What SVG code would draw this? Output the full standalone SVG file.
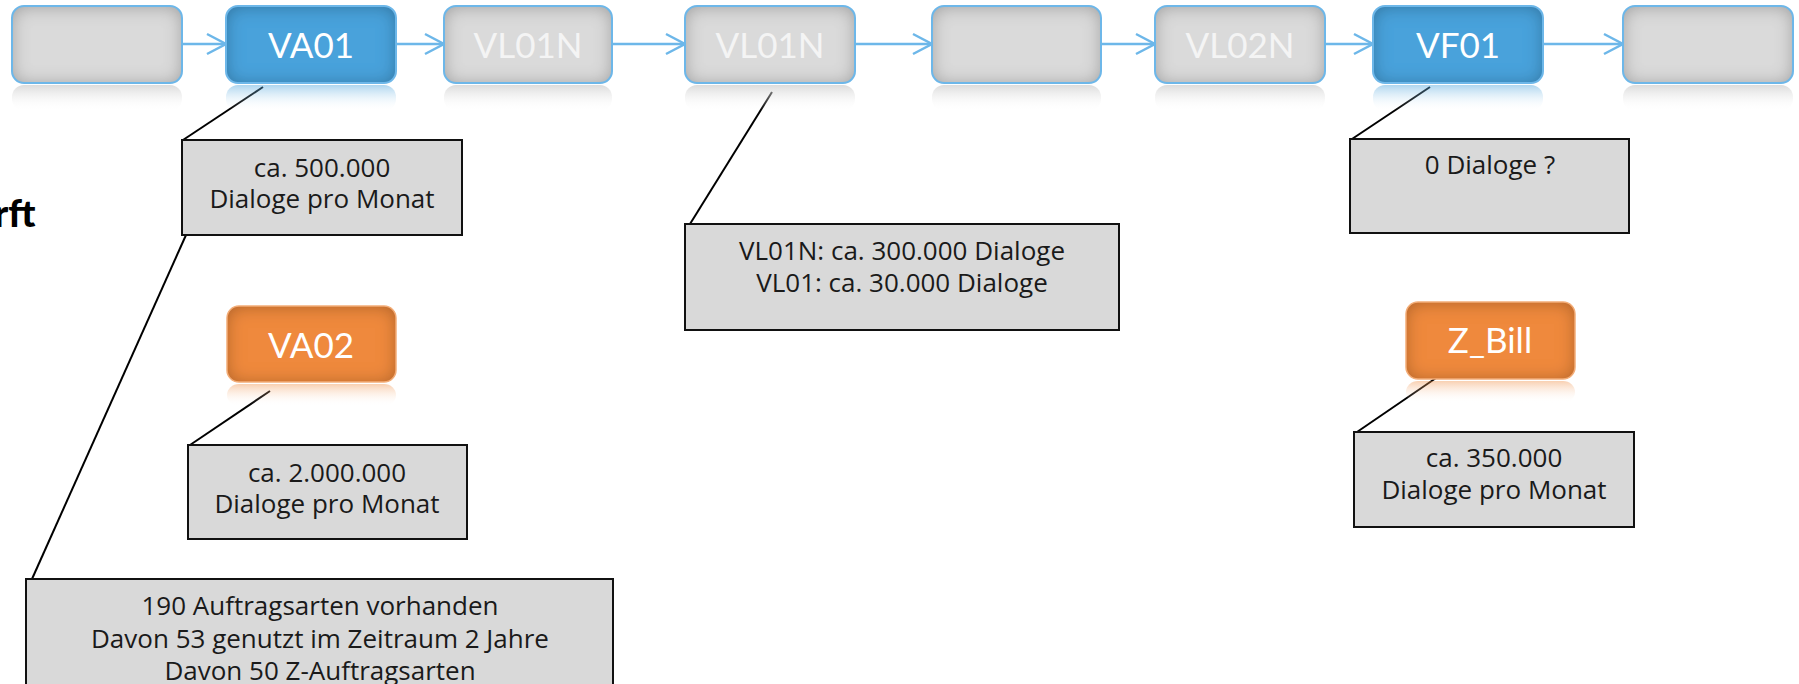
<svg xmlns="http://www.w3.org/2000/svg" width="1799" height="684" viewBox="0 0 1799 684">
<style>
  .ng { fill: #dadada; }
  .nb { fill: #4aa2db; }
  .no { fill: #ef893c; }
  .sb { fill: none; stroke: #6db7e9; stroke-width: 2; }
  .so { fill: none; stroke: #f3ad78; stroke-width: 1.5; }
  .nt { font-family: Lato, "Liberation Sans", sans-serif; font-size: 35px; fill: #ffffff; text-anchor: middle; }
  .ntg { fill: #f4f4f4; }
  .cb { fill: #d9d9d9; stroke: #111111; stroke-width: 2; }
  .ct { font-family: "Open Sans", "Liberation Sans", sans-serif; font-size: 26px; fill: #1a1a1a; text-anchor: middle; }
  .arr { fill: none; stroke: #6db7e9; stroke-width: 2.5; marker-end: url(#ah); }
  .cl { fill: none; stroke: #000000; stroke-width: 2; }
</style>
<defs>
  <filter id="inner" x="-30%" y="-50%" width="160%" height="200%">
    <feFlood flood-color="#000000" flood-opacity="0.55" result="f"/>
    <feComposite in="f" in2="SourceAlpha" operator="out" result="outside"/>
    <feOffset dy="1" in="outside" result="o"/>
    <feGaussianBlur in="o" stdDeviation="9" result="b"/>
    <feComposite in="b" in2="SourceAlpha" operator="in" result="s"/>
    <feMerge><feMergeNode in="SourceGraphic"/><feMergeNode in="s"/></feMerge>
  </filter>
  <linearGradient id="rg" x1="0" y1="0" x2="0" y2="1">
    <stop offset="0" stop-color="#cccccc" stop-opacity="0.7"/>
    <stop offset="1" stop-color="#ffffff" stop-opacity="0"/>
  </linearGradient>
  <linearGradient id="rb" x1="0" y1="0" x2="0" y2="1">
    <stop offset="0" stop-color="#4aa2db" stop-opacity="0.45"/>
    <stop offset="1" stop-color="#ffffff" stop-opacity="0"/>
  </linearGradient>
  <linearGradient id="ro" x1="0" y1="0" x2="0" y2="1">
    <stop offset="0" stop-color="#ef893c" stop-opacity="0.4"/>
    <stop offset="1" stop-color="#ffffff" stop-opacity="0"/>
  </linearGradient>
  <marker id="ah" markerUnits="userSpaceOnUse" markerWidth="24" markerHeight="24" viewBox="0 0 24 24" refX="21" refY="12" orient="auto">
    <path d="M2,2 L21,12 L2,22" fill="none" stroke="#6db7e9" stroke-width="2.5"/>
  </marker>
</defs>

<text x="-6" y="227" font-family="Lato, 'Liberation Sans', sans-serif" font-size="38" font-weight="900" fill="#000">rft</text>

<g id="connectors">
  <line class="arr" x1="182" y1="44" x2="226" y2="44"/>
  <line class="arr" x1="396" y1="44" x2="444" y2="44"/>
  <line class="arr" x1="612" y1="44" x2="685" y2="44"/>
  <line class="arr" x1="855" y1="44" x2="932" y2="44"/>
  <line class="arr" x1="1101" y1="44" x2="1155" y2="44"/>
  <line class="arr" x1="1325" y1="44" x2="1373" y2="44"/>
  <line class="arr" x1="1543" y1="44" x2="1623" y2="44"/>
  <line class="cl" x1="263" y1="87" x2="183" y2="140"/>
  <line class="cl" x1="186" y1="235" x2="32" y2="579"/>
  <line class="cl" x1="772" y1="92" x2="690" y2="224"/>
  <line class="cl" x1="1430" y1="87" x2="1352" y2="139"/>
  <line class="cl" x1="270" y1="391" x2="190" y2="445"/>
  <line class="cl" x1="1436" y1="378" x2="1357" y2="432"/>
</g>

<g id="n1">
  <rect x="12" y="85" width="170" height="26" rx="12" fill="url(#rg)"/>
  <rect class="ng" x="12" y="6" width="170" height="77" rx="12" filter="url(#inner)"/>
  <rect class="sb" x="12" y="6" width="170" height="77" rx="12"/>
</g>
<g id="n2">
  <rect x="226" y="85" width="170" height="26" rx="12" fill="url(#rb)"/>
  <rect class="nb" x="226" y="6" width="170" height="77" rx="12" filter="url(#inner)"/>
  <rect class="sb" x="226" y="6" width="170" height="77" rx="12"/>
  <text class="nt" x="311" y="58">VA01</text>
</g>
<g id="n3">
  <rect x="444" y="85" width="168" height="26" rx="12" fill="url(#rg)"/>
  <rect class="ng" x="444" y="6" width="168" height="77" rx="12" filter="url(#inner)"/>
  <rect class="sb" x="444" y="6" width="168" height="77" rx="12"/>
  <text class="nt ntg" x="528" y="58">VL01N</text>
</g>
<g id="n4">
  <rect x="685" y="85" width="170" height="26" rx="12" fill="url(#rg)"/>
  <rect class="ng" x="685" y="6" width="170" height="77" rx="12" filter="url(#inner)"/>
  <rect class="sb" x="685" y="6" width="170" height="77" rx="12"/>
  <text class="nt ntg" x="770" y="58">VL01N</text>
</g>
<g id="n5">
  <rect x="932" y="85" width="169" height="26" rx="12" fill="url(#rg)"/>
  <rect class="ng" x="932" y="6" width="169" height="77" rx="12" filter="url(#inner)"/>
  <rect class="sb" x="932" y="6" width="169" height="77" rx="12"/>
</g>
<g id="n6">
  <rect x="1155" y="85" width="170" height="26" rx="12" fill="url(#rg)"/>
  <rect class="ng" x="1155" y="6" width="170" height="77" rx="12" filter="url(#inner)"/>
  <rect class="sb" x="1155" y="6" width="170" height="77" rx="12"/>
  <text class="nt ntg" x="1240" y="58">VL02N</text>
</g>
<g id="n7">
  <rect x="1373" y="85" width="170" height="26" rx="12" fill="url(#rb)"/>
  <rect class="nb" x="1373" y="6" width="170" height="77" rx="12" filter="url(#inner)"/>
  <rect class="sb" x="1373" y="6" width="170" height="77" rx="12"/>
  <text class="nt" x="1458" y="58">VF01</text>
</g>
<g id="n8">
  <rect x="1623" y="85" width="170" height="26" rx="12" fill="url(#rg)"/>
  <rect class="ng" x="1623" y="6" width="170" height="77" rx="12" filter="url(#inner)"/>
  <rect class="sb" x="1623" y="6" width="170" height="77" rx="12"/>
</g>

<g id="va02">
  <rect x="227" y="384" width="169" height="22" rx="12" fill="url(#ro)"/>
  <rect class="no" x="227" y="306" width="169" height="76" rx="12" filter="url(#inner)"/>
  <rect class="so" x="227" y="306" width="169" height="76" rx="12"/>
  <text class="nt" x="311" y="358">VA02</text>
</g>
<g id="zbill">
  <rect x="1406" y="381" width="169" height="22" rx="12" fill="url(#ro)"/>
  <rect class="no" x="1406" y="302" width="169" height="77" rx="12" filter="url(#inner)"/>
  <rect class="so" x="1406" y="302" width="169" height="77" rx="12"/>
  <text class="nt" x="1490" y="353">Z_Bill</text>
</g>

<g id="c1">
  <rect class="cb" x="182" y="140" width="280" height="95"/>
  <text class="ct" x="322" y="177">ca. 500.000</text>
  <text class="ct" x="322" y="208">Dialoge pro Monat</text>
</g>
<g id="c2">
  <rect class="cb" x="685" y="224" width="434" height="106"/>
  <text class="ct" x="902" y="260">VL01N: ca. 300.000 Dialoge</text>
  <text class="ct" x="902" y="292">VL01: ca. 30.000 Dialoge</text>
</g>
<g id="c3">
  <rect class="cb" x="1350" y="139" width="279" height="94"/>
  <text class="ct" x="1490" y="174">0 Dialoge ?</text>
</g>
<g id="c4">
  <rect class="cb" x="188" y="445" width="279" height="94"/>
  <text class="ct" x="327" y="482">ca. 2.000.000</text>
  <text class="ct" x="327" y="513">Dialoge pro Monat</text>
</g>
<g id="c5">
  <rect class="cb" x="1354" y="432" width="280" height="95"/>
  <text class="ct" x="1494" y="467">ca. 350.000</text>
  <text class="ct" x="1494" y="499">Dialoge pro Monat</text>
</g>
<g id="c6">
  <rect class="cb" x="26" y="579" width="587" height="120"/>
  <text class="ct" x="320" y="615">190 Auftragsarten vorhanden</text>
  <text class="ct" x="320" y="648">Davon 53 genutzt im Zeitraum 2 Jahre</text>
  <text class="ct" x="320" y="680">Davon 50 Z-Auftragsarten</text>
</g>
</svg>
